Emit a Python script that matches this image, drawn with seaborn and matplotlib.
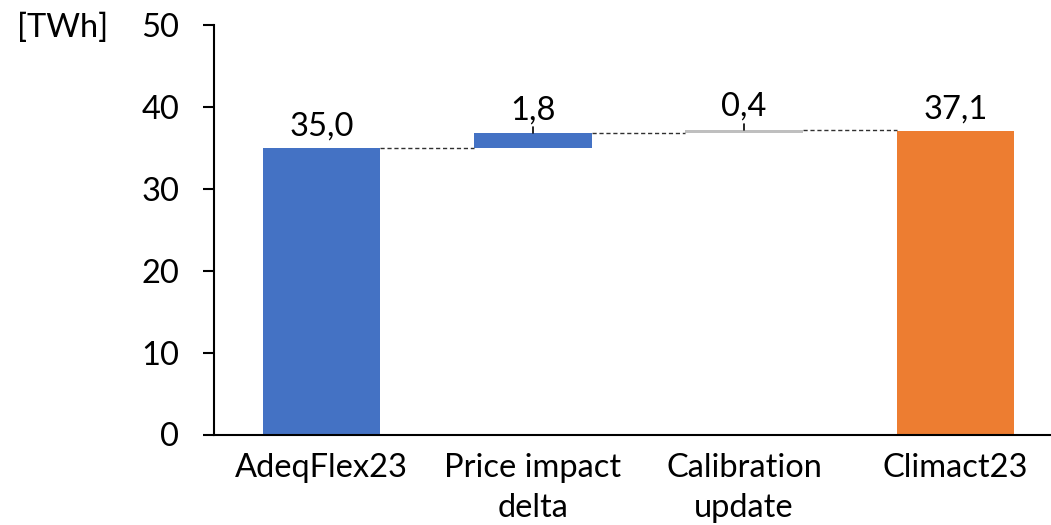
import matplotlib
matplotlib.use("Agg")
import matplotlib.pyplot as plt
import seaborn as sns
import pandas as pd

# Waterfall data [TWh]
categories = ["AdeqFlex23", "Price impact\ndelta", "Calibration\nupdate", "Climact23"]
values = [35.0, 1.8, 0.4, 37.1]
kinds = ["total", "delta", "delta", "total"]
bar_colors = ["#4472C4", "#4472C4", "#BFBFBF", "#ED7D31"]
value_labels = ["35,0", "1,8", "0,4", "37,1"]
y_ticks = [0, 10, 20, 30, 40, 50]

sns.set_theme(style="white")
plt.rcParams["font.family"] = ["Lato", "DejaVu Sans"]
FS = 23.5

# running bottoms for the floating delta bars
bottoms, tops = [], []
running = 0.0
for v, k in zip(values, kinds):
    if k == "total":
        bottoms.append(0.0)
        running = v
        tops.append(v)
    else:
        bottoms.append(running)
        running += v
        tops.append(running)

df = pd.DataFrame({"cat": categories, "height": values})

fig = plt.figure(figsize=(10.51, 5.25), dpi=100)
ax = fig.add_axes([214 / 1051, 1 - 434.5 / 525, 1 - 214 / 1051, (434.5 - 25.5) / 525])

sns.barplot(data=df, x="cat", y="height", hue="cat", palette=bar_colors,
            width=0.556, saturation=1, legend=False, ax=ax, linewidth=0)

for patch, b in zip(ax.patches, bottoms):
    patch.set_y(b)

bw = 0.556
# dashed connectors between consecutive bars
for i in range(len(categories) - 1):
    ax.plot([i + bw / 2, i + 1 - bw / 2], [tops[i], tops[i]],
            color="#303030", lw=1.0, ls=(0, (3, 2)), zorder=1)

# value labels, with a short leader on the delta bars
for i, (t, lab, k) in enumerate(zip(tops, value_labels, kinds)):
    if k == "delta":
        ax.plot([i, i], [t, t + 0.8], color="black", lw=1.2, zorder=3)
        ax.text(i, t + 1.0, lab, ha="center", va="bottom", fontsize=FS, color="black")
    else:
        ax.text(i, t + 0.8, lab, ha="center", va="bottom", fontsize=FS, color="black")

ax.set_ylim(0, 50)
ax.set_xlim(-0.509, 3.453)
ax.set_yticks(y_ticks)
ax.set_yticklabels([str(t) for t in y_ticks])
ax.set_xlabel("")
ax.set_ylabel("")

for s in ["top", "right"]:
    ax.spines[s].set_visible(False)
for s in ["left", "bottom"]:
    ax.spines[s].set_color("black")
    ax.spines[s].set_linewidth(1.5)

ax.tick_params(axis="y", direction="out", length=8, width=1.5, pad=17,
               labelsize=FS, colors="black", left=True)
ax.tick_params(axis="x", length=0, pad=13, labelsize=FS, colors="black")
for lab in ax.get_xticklabels():
    lab.set_linespacing(1.45)

fig.text(63 / 1051, 1 - 28 / 525, "[TWh]", ha="center", va="center", fontsize=FS, color="black")

fig.savefig("out.png", dpi=100)
